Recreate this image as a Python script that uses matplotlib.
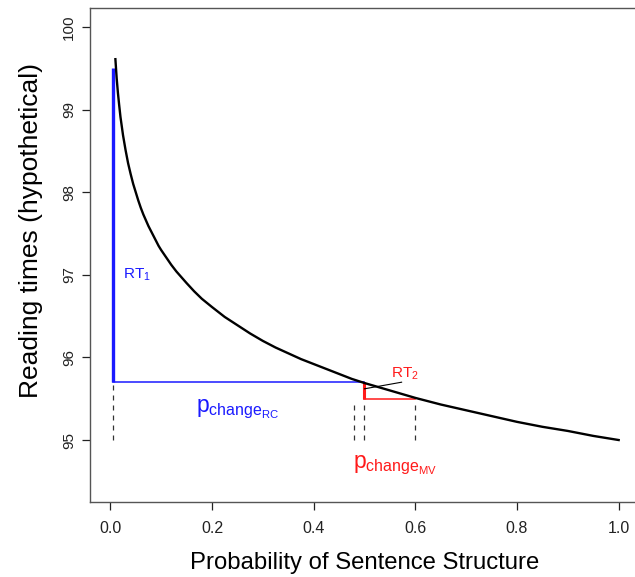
import matplotlib
matplotlib.use('Agg')
import matplotlib.pyplot as plt

plt.rcParams['font.family'] = 'Liberation Sans'
plt.rcParams['mathtext.fontset'] = 'custom'
plt.rcParams['mathtext.rm'] = 'Liberation Sans'
plt.rcParams['mathtext.it'] = 'Liberation Sans:italic'

# curve: reading time against probability
prob = [0.01, 0.0125, 0.015, 0.0175, 0.02, 0.025, 0.03, 0.035, 0.04, 0.045,
        0.05, 0.055, 0.06, 0.065, 0.07, 0.075, 0.08, 0.085, 0.09, 0.095,
        0.10, 0.11, 0.12, 0.13, 0.14, 0.15, 0.165, 0.18, 0.20, 0.225, 0.25,
        0.275, 0.30, 0.325, 0.35, 0.375, 0.40, 0.425, 0.45, 0.475, 0.50,
        0.55, 0.60, 0.65, 0.70, 0.75, 0.80, 0.85, 0.90, 0.95, 1.00]
rt = [99.61, 99.38, 99.20, 99.05, 98.91, 98.69, 98.51, 98.35, 98.22, 98.10,
      98.00, 97.90, 97.81, 97.73, 97.66, 97.59, 97.53, 97.47, 97.41, 97.35,
      97.30, 97.21, 97.12, 97.04, 96.97, 96.90, 96.80, 96.71, 96.61, 96.49, 96.39,
      96.29, 96.20, 96.12, 96.05, 95.98, 95.92, 95.86, 95.80, 95.74, 95.69,
      95.60, 95.51, 95.43, 95.36, 95.29, 95.22, 95.16, 95.11, 95.05, 95.00]

# RC structure (blue) and MV structure (red)
rc_p = 0.005
rc_top = 99.5
rc_bottom = 95.7
mv_p = 0.5
mv_p2 = 0.6
mv_top = 95.7
mv_bottom = 95.5
cross_p = 0.48
base_rt = 95.0

blue = '#1a1aff'
red = '#ff1a1a'

fig = plt.figure(figsize=(6.35, 5.77), dpi=100)
ax = fig.add_axes([0.1417, 0.13, 0.8646, 0.8562])

ax.plot(prob, rt, color='black', lw=1.7, zorder=3)

# RT1 and p_change RC
ax.plot([rc_p, rc_p], [rc_bottom, rc_top], color=blue, lw=2.4, solid_capstyle='butt')
ax.plot([rc_p, mv_p], [rc_bottom, rc_bottom], color=blue, lw=1.1)
ax.plot([rc_p, rc_p], [base_rt, rc_bottom - 0.03], color='#333333', lw=0.9, ls=(0, (4, 4)))

# RT2 and p_change MV
ax.plot([mv_p, mv_p], [mv_bottom, mv_top], color=red, lw=2.2, solid_capstyle='butt')
ax.plot([mv_p, mv_p2], [mv_bottom, mv_bottom], color=red, lw=1.1)
for xd in [cross_p, mv_p, mv_p2]:
    ax.plot([xd, xd], [base_rt, mv_bottom - 0.02], color='#333333', lw=0.9, ls=(0, (4, 4)))
ax.plot([mv_p, 0.573], [95.62, 95.70], color='black', lw=0.8)

ax.text(0.024, 96.95, r'$\mathrm{RT}_1$', color=blue, fontsize=11, ha='left', va='baseline')
ax.text(0.553, 95.75, r'$\mathrm{RT}_2$', color=red, fontsize=11, ha='left', va='baseline')
ax.text(0.168, 95.34, r'$\mathrm{p}_{\mathrm{change}_{\mathrm{RC}}}$', color=blue, fontsize=16.5,
        ha='left', va='baseline')
ax.text(0.478, 94.66, r'$\mathrm{p}_{\mathrm{change}_{\mathrm{MV}}}$', color=red, fontsize=16.5,
        ha='left', va='baseline')

ax.set_xlim(-0.04, 1.04)
ax.set_ylim(94.25, 100.23)
ax.set_xticks([0.0, 0.2, 0.4, 0.6, 0.8, 1.0])
ax.set_xticklabels(['0.0', '0.2', '0.4', '0.6', '0.8', '1.0'])
ax.set_yticks([95, 96, 97, 98, 99, 100])
ax.tick_params(axis='both', length=6, width=0.9, color='#222222', labelcolor='#222222')
ax.tick_params(axis='x', pad=8, labelsize=11.5)
ax.tick_params(axis='y', pad=4, labelsize=11)
for lab in ax.get_yticklabels():
    lab.set_rotation(90)
    lab.set_va('center')
for sp in ax.spines.values():
    sp.set_color('#555555')
    sp.set_linewidth(1.0)

ax.set_xlabel('Probability of Sentence Structure', fontsize=17.2, labelpad=11)
ax.set_ylabel('Reading times (hypothetical)', fontsize=19)
ax.yaxis.set_label_coords(-0.085, 0.55)

fig.savefig('out.png', dpi=100)
